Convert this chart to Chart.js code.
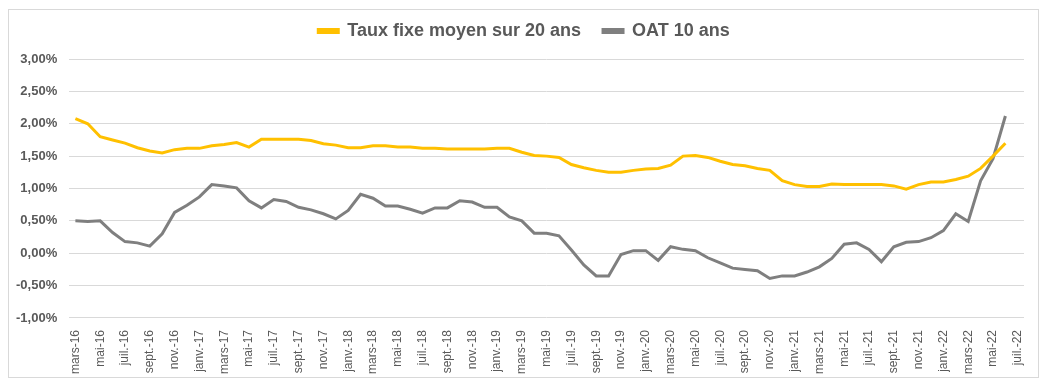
<!DOCTYPE html>
<html>
<head>
<meta charset="utf-8">
<script src="https://cdn.jsdelivr.net/npm/chart.js@4/dist/chart.umd.min.js"></script>
<style>
  body { margin: 0; background: #fff; }
  #wrap { position: relative; width: 1047px; height: 389px; }
  #frame { position: absolute; left: 8px; top: 9px; width: 1029px; height: 367px; border: 1px solid #d9d9d9; }
  canvas { position: absolute; left: 0; top: 0; }
</style>
</head>
<body>
<div id="wrap">
  <div id="frame"></div>
  <canvas id="tauxChart" width="1047" height="389"></canvas>
</div>
<script>
// mars-16 -> juil.-22
const labels = [
    'mars-16', 'avr.-16', 'mai-16', 'juin-16', 'juil.-16', 'août-16', 'sept.-16', 'oct.-16', 'nov.-16', 'déc.-16',
    'janv.-17', 'févr.-17', 'mars-17', 'avr.-17', 'mai-17', 'juin-17', 'juil.-17', 'août-17', 'sept.-17', 'oct.-17', 'nov.-17', 'déc.-17',
    'janv.-18', 'févr.-18', 'mars-18', 'avr.-18', 'mai-18', 'juin-18', 'juil.-18', 'août-18', 'sept.-18', 'oct.-18', 'nov.-18', 'déc.-18',
    'janv.-19', 'févr.-19', 'mars-19', 'avr.-19', 'mai-19', 'juin-19', 'juil.-19', 'août-19', 'sept.-19', 'oct.-19', 'nov.-19', 'déc.-19',
    'janv.-20', 'févr.-20', 'mars-20', 'avr.-20', 'mai-20', 'juin-20', 'juil.-20', 'août-20', 'sept.-20', 'oct.-20', 'nov.-20', 'déc.-20',
    'janv.-21', 'févr.-21', 'mars-21', 'avr.-21', 'mai-21', 'juin-21', 'juil.-21', 'août-21', 'sept.-21', 'oct.-21', 'nov.-21', 'déc.-21',
    'janv.-22', 'févr.-22', 'mars-22', 'avr.-22', 'mai-22', 'juin-22', 'juil.-22'
];

const tauxFixe20 = [
    2.08, 2.00, 1.80, 1.75, 1.70, 1.63, 1.58, 1.55, 1.60, 1.62,
    1.62, 1.66, 1.68, 1.71, 1.64, 1.76, 1.76, 1.76, 1.76, 1.74, 1.69, 1.67,
    1.63, 1.63, 1.66, 1.66, 1.64, 1.64, 1.62, 1.62, 1.61, 1.61, 1.61, 1.61,
    1.62, 1.62, 1.56, 1.51, 1.50, 1.48, 1.37, 1.32, 1.28, 1.25, 1.25, 1.28,
    1.30, 1.31, 1.36, 1.50, 1.51, 1.48, 1.42, 1.37, 1.35, 1.31, 1.28, 1.12,
    1.06, 1.03, 1.03, 1.07, 1.06, 1.06, 1.06, 1.06, 1.04, 0.99, 1.06, 1.10,
    1.10, 1.14, 1.19, 1.31, 1.50, 1.70, null
];

const oat10 = [
    0.50, 0.49, 0.50, 0.32, 0.18, 0.16, 0.11, 0.30, 0.63, 0.74,
    0.87, 1.06, 1.04, 1.01, 0.81, 0.70, 0.83, 0.80, 0.71, 0.67, 0.61, 0.53,
    0.66, 0.91, 0.85, 0.73, 0.73, 0.68, 0.62, 0.70, 0.70, 0.81, 0.79, 0.71,
    0.71, 0.56, 0.50, 0.31, 0.31, 0.27, 0.05, -0.18, -0.35, -0.35, -0.02, 0.04,
    0.04, -0.11, 0.10, 0.06, 0.04, -0.07, -0.15, -0.23, -0.25, -0.27, -0.39, -0.35,
    -0.35, -0.29, -0.21, -0.08, 0.14, 0.16, 0.06, -0.13, 0.10, 0.17, 0.18, 0.24,
    0.35, 0.61, 0.49, 1.12, 1.46, 2.12, null
];

const seriesNames = ['Taux fixe moyen sur 20 ans', 'OAT 10 ans'];
const seriesColors = ['#FFC000', '#7F7F7F'];

// a bit of space under the legend, and nudge it right
const legendTweak = {
    id: 'legendTweak',
    beforeInit(chart) {
        const origFit = chart.legend.fit;
        chart.legend.fit = function() {
            origFit.bind(chart.legend)();
            this.height += 9;
        };
    },
    afterLayout(chart) {
        chart.legend.left += 10;
        chart.legend.right += 10;
    }
};

const ctx = document.getElementById('tauxChart').getContext('2d');
new Chart(ctx, {
    type: 'line',
    data: {
        labels: labels,
        datasets: [
            { label: seriesNames[0], data: tauxFixe20, borderColor: seriesColors[0], backgroundColor: seriesColors[0], borderWidth: 3, pointRadius: 0, tension: 0 },
            { label: seriesNames[1], data: oat10, borderColor: seriesColors[1], backgroundColor: seriesColors[1], borderWidth: 3, pointRadius: 0, tension: 0 }
        ]
    },
    options: {
        responsive: false, animation: false,
        layout: { padding: { left: 4, right: 23, top: 0, bottom: 11 } },
        plugins: {
            legend: {
                position: 'top',
                labels: { boxWidth: 20, boxHeight: 3, color: '#595959', font: { family: 'Liberation Sans', size: 18, weight: 'bold' }, padding: 22 }
            },
            tooltip: { enabled: false }
        },
        scales: {
            x: {
                offset: true,
                grid: { display: false },
                border: { display: false },
                ticks: {
                    autoSkip: false, maxRotation: 90, minRotation: 90, color: '#595959', padding: 4,
                    font: { family: 'Liberation Sans', size: 12 },
                    callback: function(value, index) { return index % 2 === 0 ? labels[index] : ''; }
                }
            },
            y: {
                min: -1, max: 3,
                grid: { color: '#d9d9d9', drawTicks: false },
                border: { display: false },
                ticks: {
                    stepSize: 0.5, color: '#595959', padding: 12,
                    font: { family: 'Liberation Sans', size: 13, weight: 'bold' },
                    callback: function(v) { return v.toFixed(2).replace('.', ',') + '%'; }
                }
            }
        }
    },
    plugins: [legendTweak]
});
</script>
</body>
</html>
